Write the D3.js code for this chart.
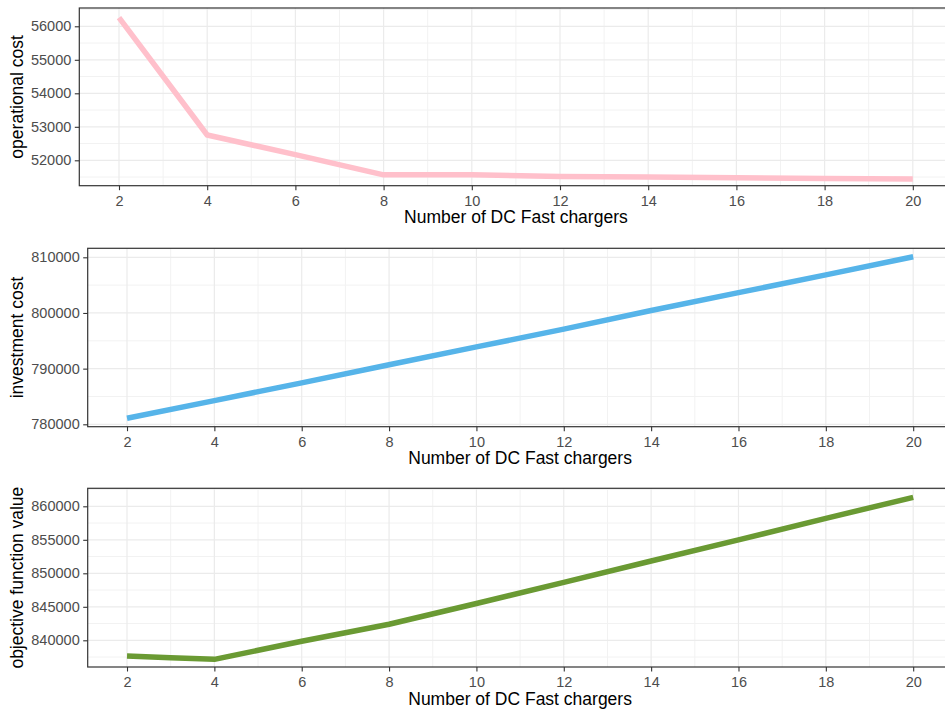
<!DOCTYPE html>
<html><head><meta charset="utf-8">
<script src="https://cdn.jsdelivr.net/npm/d3@7"></script>
<style>
body{margin:0;background:#fff;}
svg{display:block;font-family:"Liberation Sans",Arial,sans-serif;}
</style></head>
<body><svg id="c" width="945" height="717"></svg>
<script>
// ---- data ----
const xLabel = "Number of DC Fast chargers";
const xTicks = [2,4,6,8,10,12,14,16,18,20];
const xMinor = [1,3,5,7,9,11,13,15,17,19,21];

const xOperational = [2,4,6,8,10,12,14,16,18,20];
const operationalCost = [56257,52755,52170,51567,51567,51519,51500,51478,51458,51439];

const xInvestment = [2,4,6,8,10,12,14,16,18,20];
const investmentCost = [781100,784250,787450,790700,793900,797100,800450,803650,806850,810100];

const xObjective = [2,3,4,6,8,10,12,14,16,18,20];
const objectiveValue = [837650,837400,837160,839850,842400,845500,848650,851830,854980,858200,861340];

const opTicks = [52000,53000,54000,55000,56000];
const invTicks = [780000,790000,800000,810000];
const objTicks = [840000,845000,850000,855000,860000];

const panels = [
  {x:xOperational, y:operationalCost, title:"operational cost", color:"#FFC0CB",
   yDomain:[51242,56546], ticks:opTicks, step:1000, left:79.3, top:8, bottom:185.7},
  {x:xInvestment, y:investmentCost, title:"investment cost", color:"#56B4E9",
   yDomain:[779570,811617], ticks:invTicks, step:10000, left:87.7, top:248.3, bottom:426.7},
  {x:xObjective, y:objectiveValue, title:"objective function value", color:"#6A9A33",
   yDomain:[836015,862687], ticks:objTicks, step:5000, left:87.7, top:488.3, bottom:667}
];

const svg = d3.select("#c");
const rightEdge = 952.5;

panels.forEach(p => {
  const g = svg.append("g");
  const xs = d3.scaleLinear().domain([1.1,20.9]).range([p.left, rightEdge]);
  const ys = d3.scaleLinear().domain(p.yDomain).range([p.bottom, p.top]);
  const w = rightEdge - p.left, h = p.bottom - p.top;

  const yMinor = [];
  for (let v = p.ticks[0] - p.step/2; v <= p.yDomain[1]; v += p.step) if (v >= p.yDomain[0]) yMinor.push(v);

  g.append("g").selectAll("line").data(yMinor).join("line")
    .attr("x1",p.left).attr("x2",rightEdge).attr("y1",d=>ys(d)).attr("y2",d=>ys(d))
    .attr("stroke","#F2F2F2").attr("stroke-width",1);
  g.append("g").selectAll("line").data(xMinor.filter(d=>d>1.1&&d<20.9)).join("line")
    .attr("y1",p.top).attr("y2",p.bottom).attr("x1",d=>xs(d)).attr("x2",d=>xs(d))
    .attr("stroke","#F2F2F2").attr("stroke-width",1);
  g.append("g").selectAll("line").data(p.ticks).join("line")
    .attr("x1",p.left).attr("x2",rightEdge).attr("y1",d=>ys(d)).attr("y2",d=>ys(d))
    .attr("stroke","#EBEBEB").attr("stroke-width",1.2);
  g.append("g").selectAll("line").data(xTicks).join("line")
    .attr("y1",p.top).attr("y2",p.bottom).attr("x1",d=>xs(d)).attr("x2",d=>xs(d))
    .attr("stroke","#EBEBEB").attr("stroke-width",1.2);

  const pts = p.x.map((xv,i)=>[xv,p.y[i]]);
  g.append("path").datum(pts)
    .attr("d", d3.line().x(d=>xs(d[0])).y(d=>ys(d[1])))
    .attr("fill","none").attr("stroke",p.color).attr("stroke-width",5.5)
    .attr("stroke-linejoin","round").attr("stroke-linecap","butt");

  g.append("rect").attr("x",p.left).attr("y",p.top).attr("width",w).attr("height",h)
    .attr("fill","none").attr("stroke","#333333").attr("stroke-width",1.2);

  const xAxis = d3.axisBottom(xs).tickValues(xTicks).tickSize(4.5).tickPadding(5.5);
  const gx = g.append("g").attr("transform",`translate(0,${p.bottom})`).call(xAxis);
  gx.select(".domain").remove();
  gx.selectAll(".tick line").attr("stroke","#333333").attr("stroke-width",1.1);
  gx.selectAll(".tick text").attr("fill","#4D4D4D").style("font-size","14.5px")
    .style("font-family","'Liberation Sans',Arial,sans-serif");

  const yAxis = d3.axisLeft(ys).tickValues(p.ticks).tickFormat(d3.format("d")).tickSize(4.5).tickPadding(3.5);
  const gy = g.append("g").attr("transform",`translate(${p.left},0)`).call(yAxis);
  gy.select(".domain").remove();
  gy.selectAll(".tick line").attr("stroke","#333333").attr("stroke-width",1.1);
  gy.selectAll(".tick text").attr("fill","#4D4D4D").style("font-size","14.5px")
    .style("font-family","'Liberation Sans',Arial,sans-serif");

  g.append("text").attr("x",(p.left+rightEdge)/2).attr("y",p.bottom+37.5)
    .attr("text-anchor","middle").attr("fill","#000").style("font-size","17.5px").text(xLabel);
  g.append("text").attr("transform",`translate(23,${(p.top+p.bottom)/2}) rotate(-90)`)
    .attr("text-anchor","middle").attr("fill","#000").style("font-size","17.5px").text(p.title);
});
</script></body></html>
